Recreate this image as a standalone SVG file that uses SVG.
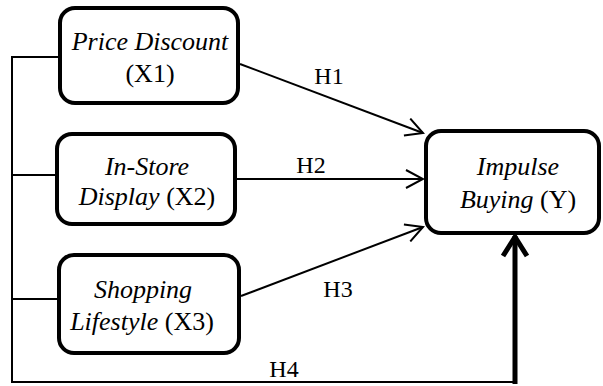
<svg xmlns="http://www.w3.org/2000/svg" width="603" height="386" viewBox="0 0 603 386">
  <defs>
    <style>
      .box { fill: #ffffff; stroke: #000000; stroke-width: 4; }
      .lbl { font-family: "Liberation Serif", "Times New Roman", serif; font-size: 26px; fill: #000000; text-anchor: middle; }
      .hyp { font-size: 24px; }
      .it { font-style: italic; }
      .wire { fill: none; stroke: #000000; stroke-width: 2; }
      .thick { fill: none; stroke: #000000; stroke-width: 5; }
    </style>
    <marker id="head" markerWidth="20" markerHeight="20" viewBox="0 0 20 20" refX="18" refY="10" orient="auto" markerUnits="userSpaceOnUse">
      <path d="M1,1 L18,10 L1,19" fill="none" stroke="#000000" stroke-width="2"/>
    </marker>
    <marker id="headBig" markerWidth="30" markerHeight="30" viewBox="0 0 30 30" refX="26" refY="15" orient="auto" markerUnits="userSpaceOnUse">
      <path d="M6,3 L25,15 L6,27" fill="none" stroke="#000000" stroke-width="5"/>
    </marker>
  </defs>
  <rect width="603" height="386" fill="#ffffff"/>

  <g id="connectors">
    <!-- feedback line from the left collecting all three predictors -->
    <polyline class="wire" points="58,57 12,57 12,382 517,382"/>
    <line class="wire" x1="12" y1="175" x2="55" y2="175"/>
    <line class="wire" x1="12" y1="299" x2="57" y2="299"/>
    <!-- hypotheses H1..H3 -->
    <line class="wire" x1="240" y1="64" x2="423" y2="133" marker-end="url(#head)"/>
    <line class="wire" x1="237" y1="179" x2="423" y2="179" marker-end="url(#head)"/>
    <line class="wire" x1="241" y1="296" x2="423" y2="227" marker-end="url(#head)"/>
    <!-- H4 combined effect -->
    <line class="thick" x1="515" y1="384" x2="515" y2="236" marker-end="url(#headBig)"/>
    <text class="lbl hyp" x="329" y="84">H1</text>
    <text class="lbl hyp" x="311" y="173">H2</text>
    <text class="lbl hyp" x="338" y="297">H3</text>
    <text class="lbl hyp" x="284" y="377">H4</text>
  </g>

  <g id="price-discount">
    <rect class="box" x="60" y="8" width="178" height="95" rx="15"/>
    <text class="lbl it" x="150" y="50">Price Discount</text>
    <text class="lbl" x="150" y="82">(X1)</text>
  </g>

  <g id="in-store-display">
    <rect class="box" x="57" y="134" width="178" height="90" rx="15"/>
    <text class="lbl it" x="147" y="175">In-Store</text>
    <text class="lbl" x="147" y="205"><tspan class="it">Display</tspan> (X2)</text>
  </g>

  <g id="shopping-lifestyle">
    <rect class="box" x="59" y="255" width="180" height="98" rx="15"/>
    <text class="lbl it" x="143" y="298">Shopping</text>
    <text class="lbl" x="142" y="330"><tspan class="it">Lifestyle</tspan> (X3)</text>
  </g>

  <g id="impulse-buying">
    <rect class="box" x="426" y="131" width="173" height="102" rx="15"/>
    <text class="lbl it" x="518" y="175">Impulse</text>
    <text class="lbl" x="518" y="208"><tspan class="it">Buying</tspan> (Y)</text>
  </g>
</svg>
